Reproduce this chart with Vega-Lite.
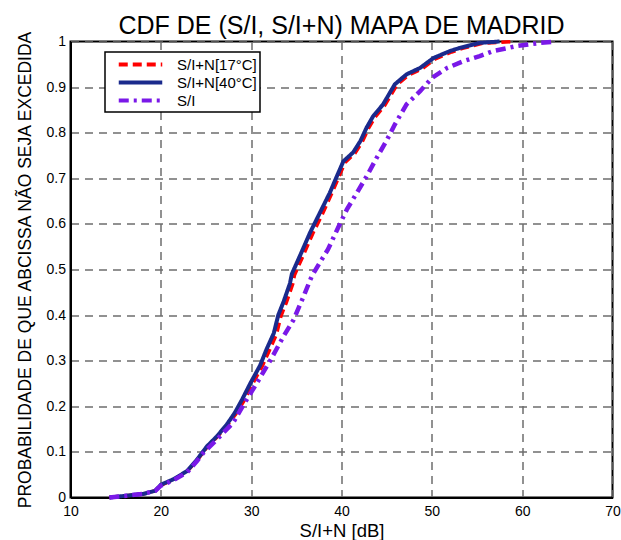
{
  "$schema": "https://vega.github.io/schema/vega-lite/v6.json",
  "width": 542,
  "height": 456,
  "autosize": "none",
  "padding": {"left": 70.5, "top": 41.5, "right": 8.5, "bottom": 42.5},
  "background": "white",
  "title": {"text": "CDF DE (S/I, S/I+N) MAPA DE MADRID", "fontSize": 25, "font": "Liberation Sans", "fontWeight": "normal", "color": "black", "offset": 10, "dy": 19, "anchor": "middle"},
  "config": {
    "view": {"stroke": "black", "strokeWidth": 2},
    "axis": {"labelFont": "Liberation Sans", "titleFont": "Liberation Sans", "labelColor": "black", "titleColor": "black", "labelFontSize": 14, "titleFontSize": 18.5, "titleFontWeight": "normal", "domainColor": "black", "domainWidth": 2, "ticks": false, "gridColor": "#6e6e6e", "gridDash": [8, 6], "gridWidth": 1.5, "gridOpacity": 1, "labelFlush": false, "labelOverlap": false},
    "legend": {"strokeWidth": 1.5}
  },
  "data": {"values": [
    {"s": "S/I+N[17°C]", "x": 14.3, "y": 0}, {"s": "S/I+N[17°C]", "x": 16.2, "y": 0.004}, {"s": "S/I+N[17°C]", "x": 18.1, "y": 0.008}, {"s": "S/I+N[17°C]", "x": 19.4, "y": 0.015}, {"s": "S/I+N[17°C]", "x": 20.0, "y": 0.027}, {"s": "S/I+N[17°C]", "x": 21.4, "y": 0.039}, {"s": "S/I+N[17°C]", "x": 22.9, "y": 0.057}, {"s": "S/I+N[17°C]", "x": 24.0, "y": 0.081}, {"s": "S/I+N[17°C]", "x": 25.1, "y": 0.11}, {"s": "S/I+N[17°C]", "x": 26.2, "y": 0.132}, {"s": "S/I+N[17°C]", "x": 27.3, "y": 0.157}, {"s": "S/I+N[17°C]", "x": 28.3, "y": 0.183}, {"s": "S/I+N[17°C]", "x": 29.2, "y": 0.212}, {"s": "S/I+N[17°C]", "x": 30.1, "y": 0.247}, {"s": "S/I+N[17°C]", "x": 31.2, "y": 0.287}, {"s": "S/I+N[17°C]", "x": 32.0, "y": 0.322}, {"s": "S/I+N[17°C]", "x": 32.8, "y": 0.358}, {"s": "S/I+N[17°C]", "x": 33.3, "y": 0.398}, {"s": "S/I+N[17°C]", "x": 33.9, "y": 0.428}, {"s": "S/I+N[17°C]", "x": 34.6, "y": 0.468}, {"s": "S/I+N[17°C]", "x": 34.8, "y": 0.488}, {"s": "S/I+N[17°C]", "x": 35.7, "y": 0.528}, {"s": "S/I+N[17°C]", "x": 36.8, "y": 0.578}, {"s": "S/I+N[17°C]", "x": 37.9, "y": 0.622}, {"s": "S/I+N[17°C]", "x": 38.9, "y": 0.666}, {"s": "S/I+N[17°C]", "x": 39.7, "y": 0.703}, {"s": "S/I+N[17°C]", "x": 40.4, "y": 0.735}, {"s": "S/I+N[17°C]", "x": 41.5, "y": 0.755}, {"s": "S/I+N[17°C]", "x": 42.3, "y": 0.78}, {"s": "S/I+N[17°C]", "x": 43.0, "y": 0.81}, {"s": "S/I+N[17°C]", "x": 43.7, "y": 0.834}, {"s": "S/I+N[17°C]", "x": 44.8, "y": 0.86}, {"s": "S/I+N[17°C]", "x": 46.1, "y": 0.904}, {"s": "S/I+N[17°C]", "x": 47.4, "y": 0.926}, {"s": "S/I+N[17°C]", "x": 48.9, "y": 0.94}, {"s": "S/I+N[17°C]", "x": 50.4, "y": 0.962}, {"s": "S/I+N[17°C]", "x": 52.2, "y": 0.977}, {"s": "S/I+N[17°C]", "x": 53.4, "y": 0.985}, {"s": "S/I+N[17°C]", "x": 55.6, "y": 0.996}, {"s": "S/I+N[17°C]", "x": 59.2, "y": 1.0},
    {"s": "S/I+N[40°C]", "x": 14.3, "y": 0}, {"s": "S/I+N[40°C]", "x": 16.2, "y": 0.004}, {"s": "S/I+N[40°C]", "x": 18.1, "y": 0.008}, {"s": "S/I+N[40°C]", "x": 19.4, "y": 0.015}, {"s": "S/I+N[40°C]", "x": 20.0, "y": 0.028}, {"s": "S/I+N[40°C]", "x": 21.4, "y": 0.04}, {"s": "S/I+N[40°C]", "x": 22.9, "y": 0.058}, {"s": "S/I+N[40°C]", "x": 24.0, "y": 0.083}, {"s": "S/I+N[40°C]", "x": 25.1, "y": 0.112}, {"s": "S/I+N[40°C]", "x": 26.2, "y": 0.134}, {"s": "S/I+N[40°C]", "x": 27.3, "y": 0.16}, {"s": "S/I+N[40°C]", "x": 28.2, "y": 0.186}, {"s": "S/I+N[40°C]", "x": 29.0, "y": 0.215}, {"s": "S/I+N[40°C]", "x": 29.9, "y": 0.25}, {"s": "S/I+N[40°C]", "x": 31.0, "y": 0.29}, {"s": "S/I+N[40°C]", "x": 31.7, "y": 0.325}, {"s": "S/I+N[40°C]", "x": 32.5, "y": 0.36}, {"s": "S/I+N[40°C]", "x": 33.0, "y": 0.40}, {"s": "S/I+N[40°C]", "x": 33.6, "y": 0.43}, {"s": "S/I+N[40°C]", "x": 34.3, "y": 0.47}, {"s": "S/I+N[40°C]", "x": 34.5, "y": 0.49}, {"s": "S/I+N[40°C]", "x": 35.4, "y": 0.53}, {"s": "S/I+N[40°C]", "x": 36.5, "y": 0.58}, {"s": "S/I+N[40°C]", "x": 37.6, "y": 0.624}, {"s": "S/I+N[40°C]", "x": 38.7, "y": 0.668}, {"s": "S/I+N[40°C]", "x": 39.5, "y": 0.705}, {"s": "S/I+N[40°C]", "x": 40.2, "y": 0.737}, {"s": "S/I+N[40°C]", "x": 41.3, "y": 0.757}, {"s": "S/I+N[40°C]", "x": 42.1, "y": 0.782}, {"s": "S/I+N[40°C]", "x": 42.8, "y": 0.812}, {"s": "S/I+N[40°C]", "x": 43.5, "y": 0.836}, {"s": "S/I+N[40°C]", "x": 44.6, "y": 0.862}, {"s": "S/I+N[40°C]", "x": 45.9, "y": 0.906}, {"s": "S/I+N[40°C]", "x": 47.2, "y": 0.928}, {"s": "S/I+N[40°C]", "x": 48.7, "y": 0.942}, {"s": "S/I+N[40°C]", "x": 50.2, "y": 0.964}, {"s": "S/I+N[40°C]", "x": 52.0, "y": 0.979}, {"s": "S/I+N[40°C]", "x": 53.1, "y": 0.986}, {"s": "S/I+N[40°C]", "x": 55.3, "y": 0.997}, {"s": "S/I+N[40°C]", "x": 57.5, "y": 1.0},
    {"s": "S/I", "x": 14.3, "y": 0}, {"s": "S/I", "x": 16.2, "y": 0.004}, {"s": "S/I", "x": 18.1, "y": 0.008}, {"s": "S/I", "x": 19.4, "y": 0.015}, {"s": "S/I", "x": 20.0, "y": 0.026}, {"s": "S/I", "x": 21.4, "y": 0.038}, {"s": "S/I", "x": 22.9, "y": 0.055}, {"s": "S/I", "x": 24.0, "y": 0.08}, {"s": "S/I", "x": 24.7, "y": 0.098}, {"s": "S/I", "x": 26.2, "y": 0.127}, {"s": "S/I", "x": 28.0, "y": 0.164}, {"s": "S/I", "x": 29.3, "y": 0.208}, {"s": "S/I", "x": 30.6, "y": 0.25}, {"s": "S/I", "x": 32.1, "y": 0.30}, {"s": "S/I", "x": 33.6, "y": 0.354}, {"s": "S/I", "x": 34.7, "y": 0.39}, {"s": "S/I", "x": 35.8, "y": 0.441}, {"s": "S/I", "x": 36.7, "y": 0.485}, {"s": "S/I", "x": 37.6, "y": 0.515}, {"s": "S/I", "x": 38.5, "y": 0.544}, {"s": "S/I", "x": 39.7, "y": 0.595}, {"s": "S/I", "x": 40.6, "y": 0.632}, {"s": "S/I", "x": 41.7, "y": 0.668}, {"s": "S/I", "x": 42.8, "y": 0.705}, {"s": "S/I", "x": 43.9, "y": 0.745}, {"s": "S/I", "x": 45.0, "y": 0.783}, {"s": "S/I", "x": 45.9, "y": 0.818}, {"s": "S/I", "x": 47.2, "y": 0.862}, {"s": "S/I", "x": 48.7, "y": 0.891}, {"s": "S/I", "x": 50.0, "y": 0.92}, {"s": "S/I", "x": 51.7, "y": 0.942}, {"s": "S/I", "x": 53.5, "y": 0.957}, {"s": "S/I", "x": 55.3, "y": 0.968}, {"s": "S/I", "x": 56.8, "y": 0.979}, {"s": "S/I", "x": 59.4, "y": 0.99}, {"s": "S/I", "x": 62.0, "y": 0.997}, {"s": "S/I", "x": 63.7, "y": 1.0}
  ]},
  "encoding": {
    "x": {"field": "x", "type": "quantitative", "scale": {"domain": [10, 70], "nice": false}, "axis": {"values": [10, 20, 30, 40, 50, 60, 70], "title": "S/I+N [dB]", "labelPadding": 7, "titleY": 39, "titleBaseline": "alphabetic"}},
    "y": {"field": "y", "type": "quantitative", "scale": {"domain": [0, 1], "nice": false}, "axis": {"values": [0, 0.1, 0.2, 0.3, 0.4, 0.5, 0.6, 0.7, 0.8, 0.9, 1], "format": ".1~f", "title": "PROBABILIDADE DE QUE ABCISSA NÃO SEJA EXCEDIDA", "titleFontSize": 17.5, "labelPadding": 5, "titleX": -40, "titleBaseline": "alphabetic"}},
    "color": {"field": "s", "type": "nominal", "scale": {"domain": ["S/I+N[17°C]", "S/I+N[40°C]", "S/I"], "range": ["#ff0000", "#1a2a8c", "#7a18e8"]}, "legend": {"orient": "none", "legendX": 34.5, "legendY": 10.5, "title": null, "strokeColor": "black", "fillColor": "white", "padding": 3, "symbolType": "M-2.9,0H2.9", "symbolSize": 225, "symbolOffset": 23, "symbolStrokeWidth": 4, "labelFontSize": 15, "labelFont": "Liberation Sans", "labelColor": "black", "rowPadding": 0, "labelOffset": 27}},
    "strokeDash": {"field": "s", "type": "nominal", "scale": {"domain": ["S/I+N[17°C]", "S/I+N[40°C]", "S/I"], "range": [[9, 5], [1, 0], [10, 5, 3, 5]]}, "legend": {"orient": "none", "legendX": 34.5, "legendY": 10.5, "title": null}}
  },
  "layer": [
    {"transform": [{"filter": "datum.s === 'S/I+N[17°C]'"}], "mark": {"type": "line", "strokeWidth": 3.5, "strokeCap": "butt"}},
    {"transform": [{"filter": "datum.s === 'S/I+N[40°C]'"}], "mark": {"type": "line", "strokeWidth": 4, "strokeCap": "butt"}},
    {"transform": [{"filter": "datum.s === 'S/I'"}], "mark": {"type": "line", "strokeWidth": 4.5, "strokeCap": "butt"}}
  ]
}
